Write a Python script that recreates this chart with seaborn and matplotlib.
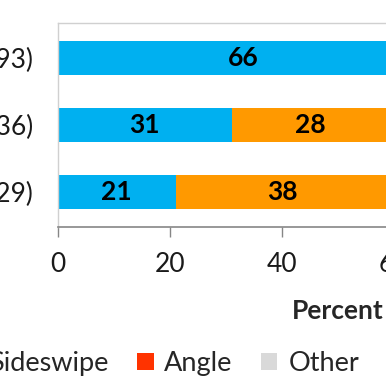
import numpy as np
import pandas as pd
import matplotlib
matplotlib.use("Agg")
import matplotlib.pyplot as plt
import seaborn as sns

# data (right part of the chart is outside the visible crop)
groups = ["Urban (n=93)", "Suburban (n=36)", "Rural (n=29)"]
types = ["Rear-end", "Sideswipe", "Angle", "Other", "Head-on"]
rear_end = [66, 31, 21]
sideswipe = [8, 28, 38]
angle = [14, 25, 27]
other = [10, 12, 10]
head_on = [2, 4, 4]
colors = ["#00B0F0", "#FF9900", "#FF3300", "#D9D9D9", "#DDEBF7"]

sns.set_style("white")
plt.rcParams["font.family"] = ["Lato", "DejaVu Sans"]

fig = plt.figure(figsize=(3.86, 3.86), dpi=100)
ax = fig.add_axes([58 / 386, 1 - 227 / 386, 560 / 386, 204 / 386])

series = [rear_end, sideswipe, angle, other, head_on]
left = np.zeros(len(groups))
for name, vals, col in zip(types, series, colors):
    df = pd.DataFrame({"group": groups, "pct": vals})
    sns.barplot(data=df, y="group", x="pct", order=groups, color=col,
                left=left.copy(), width=0.5, label=name, ax=ax,
                saturation=1, edgecolor="none")
    ax.bar_label(ax.containers[-1], labels=[str(v) for v in vals],
                 label_type="center", fontsize=19, fontweight="bold",
                 color="black")
    left += np.array(vals)

ax.set_xlim(0, 100)
ax.set_ylim(2.52, -0.52)
ax.set_xticks(range(0, 101, 20))
ax.set_xlabel("Percent", fontsize=19, fontweight="bold", labelpad=16)
ax.set_ylabel("")
ax.tick_params(axis="x", labelsize=19, length=7, width=1, color="#868686",
               labelcolor="#1a1a1a", pad=11, direction="out", bottom=True)
ax.tick_params(axis="y", labelsize=19, length=0, pad=18, labelcolor="#1a1a1a")
for s in ["top", "left", "right"]:
    ax.spines[s].set_color("#D0D0D0")
    ax.spines[s].set_linewidth(1)
ax.spines["bottom"].set_color("#868686")
ax.spines["bottom"].set_linewidth(1.2)

leg = ax.legend(loc="center", bbox_to_anchor=(0.179, -0.67), ncol=5,
                frameon=False, fontsize=19.5, handlelength=0.6,
                handleheight=0.6, handletextpad=0.4, columnspacing=1.05)

fig.savefig("out.png", dpi=100)
